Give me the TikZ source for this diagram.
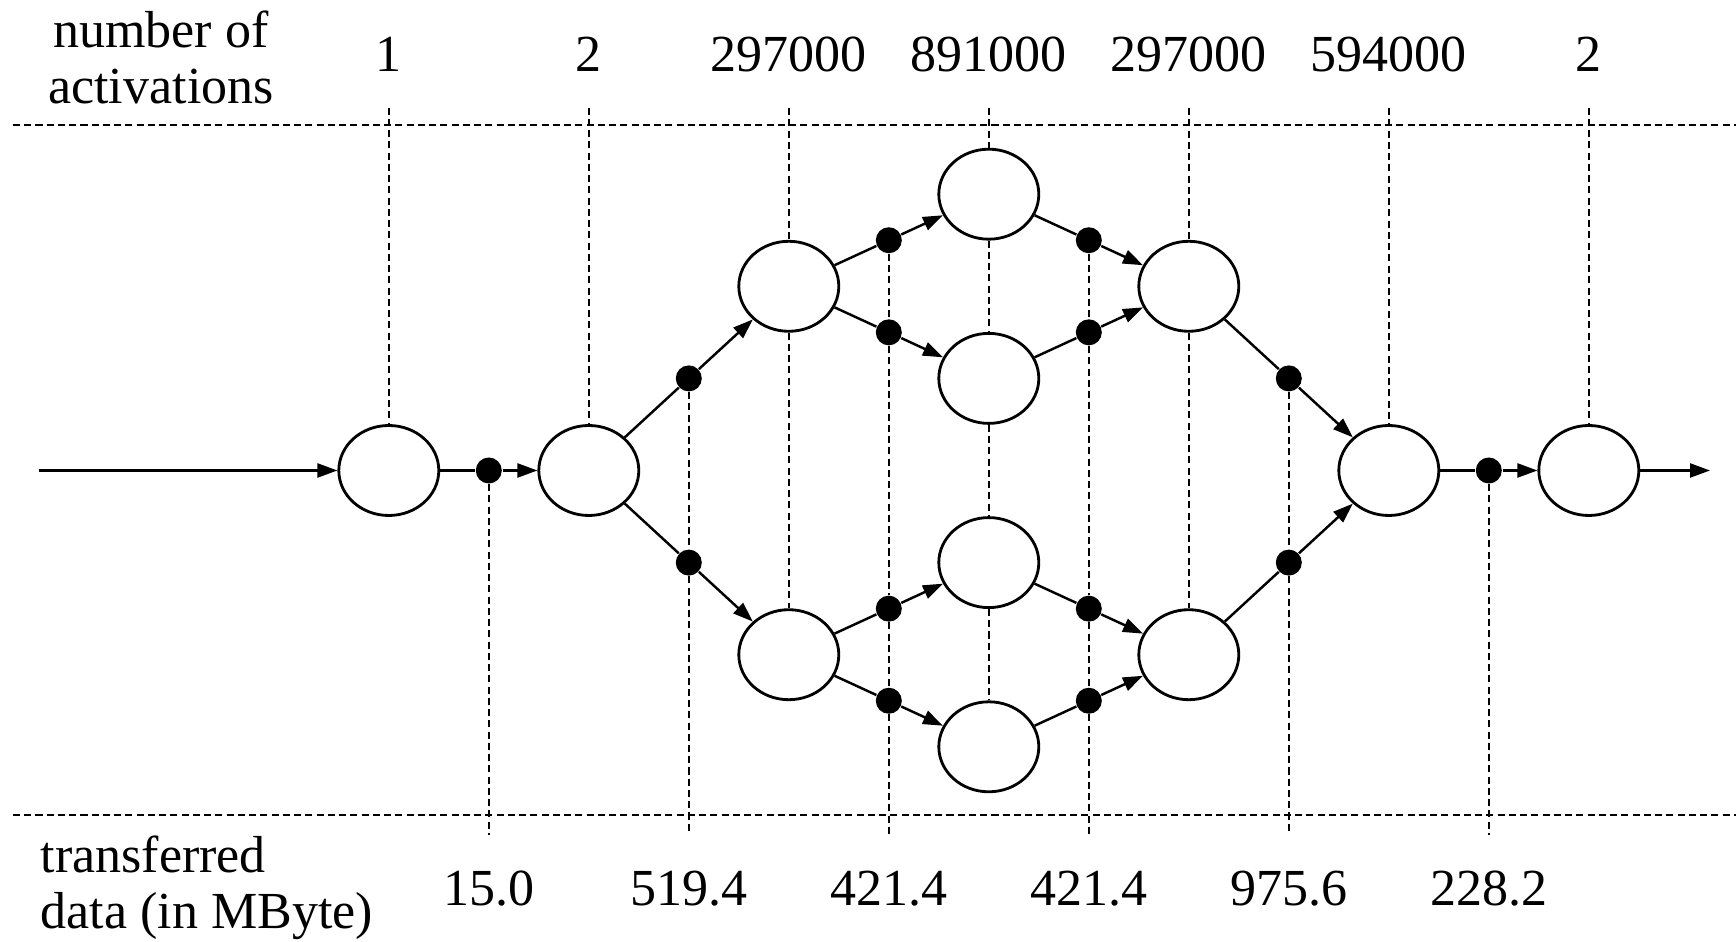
\documentclass[tikz,border=0pt]{standalone}
\usepackage{fontspec}
\setmainfont{Liberation Serif}
\usetikzlibrary{arrows.meta,shapes.geometric}

\newcommand*{\rowstep}{0.921}
\newcommand*{\xleft}{-3.888}
\newcommand*{\xright}{13.472}
\newcommand*{\ytop}{4.705}
\newcommand*{\ybot}{-4.715}

\begin{document}
\begin{tikzpicture}
[
	task/.style={ellipse,draw,line width=0.8pt,inner sep=0pt,minimum width=1cm,minimum height=0.9cm},
	datapt/.style={circle,fill,inner sep=0pt,minimum size=2.6mm},
	sepline/.style={line width=0.7pt,dash pattern=on 2pt off 1.2pt},
	flow/.style={line width=0.7pt},
	actnum/.style={anchor=base,inner xsep=0pt,inner ysep=3.5mm},
	datanum/.style={anchor=base,inner xsep=0pt,inner ysep=3.5mm},
	>={Triangle[length=2mm,width=1.4mm]},
	font=\fontsize{14.8}{16}\selectfont
]

	\useasboundingbox (\xleft,\ybot) rectangle (\xright,\ytop);

	% separators
	\coordinate (tl) at (-3.758,3.455);
	\coordinate (tr) at (\xright,3.455);
	\coordinate (bl) at (-3.758,-3.445);
	\coordinate (br) at (\xright,-3.445);
	\draw[sepline] (tl) -- (tr);
	\draw[sepline] (bl) -- (br);

	% headings
	\node[align=center] (acts) at (-2.278,4.129) {number of\\activations};
	\node[align=left,anchor=west,inner sep=0pt] (mbytes) at (-3.488,-4.17) {transferred\\data (in MByte)};

	% tasks
	\node[task] (a1) at (0,0) {};
	\node[task] (a2) at (2,0) {};
	\node[task] (b1) at (4,{2*\rowstep}) {};
	\node[task] (b2) at (4,{-2*\rowstep}) {};
	\node[task] (c1) at (6,{3*\rowstep}) {};
	\node[task] (c2) at (6,\rowstep) {};
	\node[task] (c3) at (6,-\rowstep) {};
	\node[task] (c4) at (6,{-3*\rowstep}) {};
	\node[task] (e1) at (8,{2*\rowstep}) {};
	\node[task] (e2) at (8,{-2*\rowstep}) {};
	\node[task] (a6) at (10,0) {};
	\node[task] (a7) at (12,0) {};

	% data points
	\node[datapt] (d1) at (1,0) {};
	\node[datapt] (p1) at (3,\rowstep) {};
	\node[datapt] (p2) at (3,-\rowstep) {};
	\node[datapt] (q1) at (5,{2.5*\rowstep}) {};
	\node[datapt] (q2) at (5,{1.5*\rowstep}) {};
	\node[datapt] (q3) at (5,{-1.5*\rowstep}) {};
	\node[datapt] (q4) at (5,{-2.5*\rowstep}) {};
	\node[datapt] (r1) at (7,{2.5*\rowstep}) {};
	\node[datapt] (r2) at (7,{1.5*\rowstep}) {};
	\node[datapt] (r3) at (7,{-1.5*\rowstep}) {};
	\node[datapt] (r4) at (7,{-2.5*\rowstep}) {};
	\node[datapt] (s1) at (9,\rowstep) {};
	\node[datapt] (s2) at (9,-\rowstep) {};
	\node[datapt] (d6) at (11,0) {};

	% activations
	\node[actnum] (n1) at (0,3.985) {1};
	\node[actnum] (n2) at (2,3.985) {2};
	\node[actnum] (n3) at (4,3.985) {297000};
	\node[actnum] (n4) at (6,3.985) {891000};
	\node[actnum] (n5) at (8,3.985) {297000};
	\node[actnum] (n6) at (10,3.985) {594000};
	\node[actnum] (n7) at (12,3.985) {2};

	% transferred data
	\node[datanum] (m1) at (1,-4.345) {15.0};
	\node[datanum] (m2) at (3,-4.345) {519.4};
	\node[datanum] (m3) at (5,-4.345) {421.4};
	\node[datanum] (m4) at (7,-4.345) {421.4};
	\node[datanum] (m5) at (9,-4.345) {975.6};
	\node[datanum] (m6) at (11,-4.345) {228.2};

	% dashed guides
	\foreach \a/\b in {n1/a1,n2/a2,n3/b1,b1/b2,n4/c1,c1/c2,c2/c3,c3/c4,n5/e1,e1/e2,n6/a6,n7/a7,
		d1/m1,p1/p2,p2/m2,q1/q2,q2/q3,q3/q4,q4/m3,r1/r2,r2/r3,r3/r4,r4/m4,s1/s2,s2/m5,d6/m6}
		\draw[sepline] (\a) -- (\b);

	% flow
	\coordinate (src) at (-3.501,0);
	\coordinate (snk) at (13.212,0);
	\draw[flow,->] (src) -- (a1);
	\draw[flow,->] (a7) -- (snk);
	\foreach \u/\d/\v in {a1/d1/a2,a2/p1/b1,a2/p2/b2,b1/q1/c1,b1/q2/c2,b2/q3/c3,b2/q4/c4,
		c1/r1/e1,c2/r2/e1,c3/r3/e2,c4/r4/e2,e1/s1/a6,e2/s2/a6,a6/d6/a7}
	{
		\draw[flow] (\u) -- (\d);
		\draw[flow,->] (\d) -- (\v);
	}

\end{tikzpicture}
\end{document}
